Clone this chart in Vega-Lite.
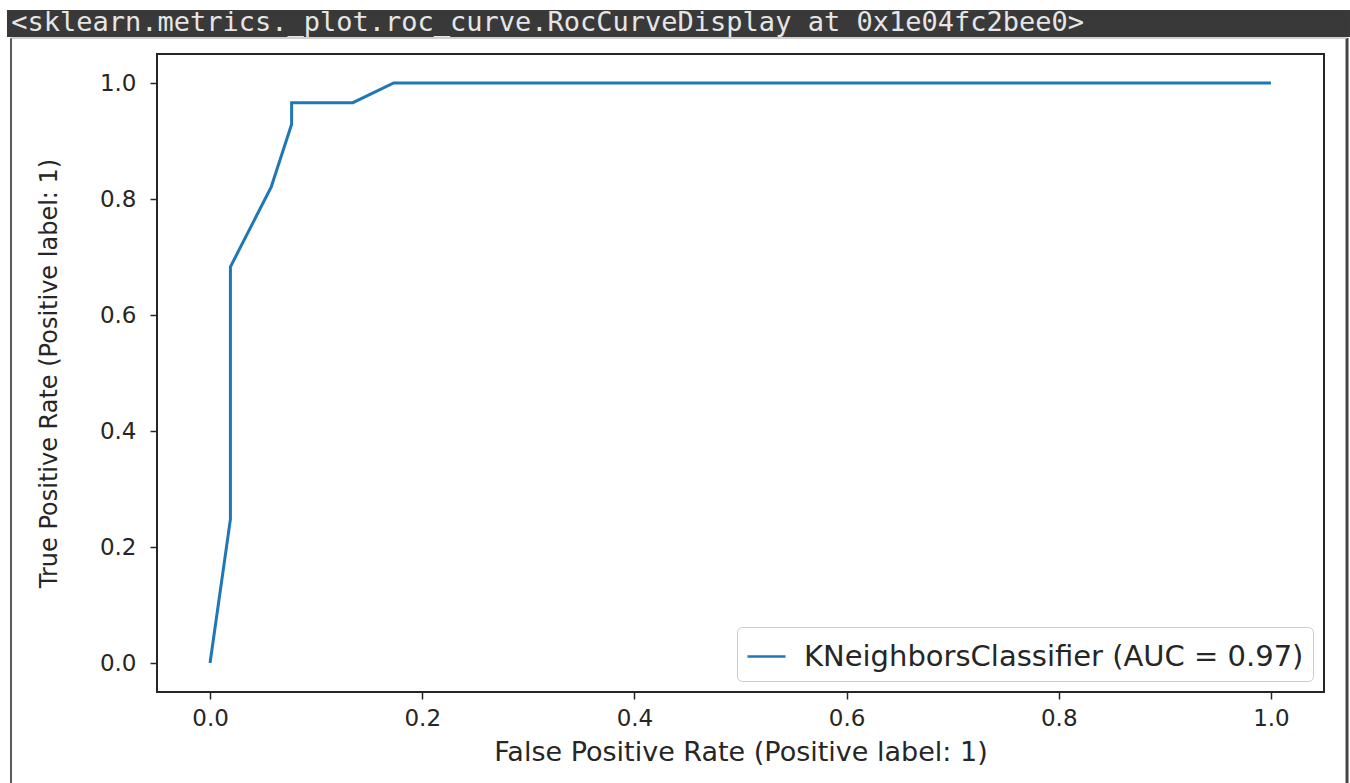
{
  "$schema": "https://vega.github.io/schema/vega-lite/v6.json",
  "width": 1167,
  "height": 638,
  "autosize": {"type": "none"},
  "padding": {"left": 157, "top": 54, "right": 26, "bottom": 91},
  "background": "white",
  "config": {
    "view": {"stroke": "#262626", "strokeWidth": 2},
    "axis": {
      "labelFont": "DejaVu Sans",
      "titleFont": "DejaVu Sans",
      "labelColor": "#262626",
      "titleColor": "#262626",
      "tickColor": "#262626",
      "tickWidth": 1.5,
      "tickSize": 7,
      "grid": false,
      "domain": false,
      "labelFlush": false,
      "titleFontWeight": "normal",
      "labelFontSize": 23
    }
  },
  "layer": [
    {
      "data": {
        "values": [
          {"i": 0, "fpr": 0.0, "tpr": 0.0, "model": "KNeighborsClassifier (AUC = 0.97)"},
          {"i": 1, "fpr": 0.0192, "tpr": 0.248, "model": "KNeighborsClassifier (AUC = 0.97)"},
          {"i": 2, "fpr": 0.0192, "tpr": 0.683, "model": "KNeighborsClassifier (AUC = 0.97)"},
          {"i": 3, "fpr": 0.0577, "tpr": 0.821, "model": "KNeighborsClassifier (AUC = 0.97)"},
          {"i": 4, "fpr": 0.0769, "tpr": 0.929, "model": "KNeighborsClassifier (AUC = 0.97)"},
          {"i": 5, "fpr": 0.0769, "tpr": 0.966, "model": "KNeighborsClassifier (AUC = 0.97)"},
          {"i": 6, "fpr": 0.1346, "tpr": 0.966, "model": "KNeighborsClassifier (AUC = 0.97)"},
          {"i": 7, "fpr": 0.1731, "tpr": 1.0, "model": "KNeighborsClassifier (AUC = 0.97)"},
          {"i": 8, "fpr": 1.0, "tpr": 1.0, "model": "KNeighborsClassifier (AUC = 0.97)"}
        ]
      },
      "mark": {"type": "line", "strokeWidth": 3, "clip": false},
      "encoding": {
        "x": {
          "field": "fpr",
          "type": "quantitative",
          "scale": {"domain": [-0.05, 1.05], "nice": false, "zero": false},
          "axis": {
            "title": "False Positive Rate (Positive label: 1)",
            "values": [0, 0.2, 0.4, 0.6, 0.8, 1.0],
            "format": ".1f",
            "labelPadding": 8,
            "titlePadding": 9,
            "titleFontSize": 27
          }
        },
        "y": {
          "field": "tpr",
          "type": "quantitative",
          "scale": {"domain": [-0.05, 1.05], "nice": false, "zero": false},
          "axis": {
            "title": "True Positive Rate (Positive label: 1)",
            "values": [0, 0.2, 0.4, 0.6, 0.8, 1.0],
            "format": ".1f",
            "labelPadding": 14,
            "titlePadding": 38,
            "titleFontSize": 24
          }
        },
        "order": {"field": "i", "type": "quantitative"},
        "color": {
          "field": "model",
          "type": "nominal",
          "scale": {"range": ["#1f77b4"]},
          "legend": {
            "title": null,
            "orient": "bottom-right",
            "offset": 11,
            "symbolType": "stroke",
            "symbolSize": 1444,
            "symbolStrokeWidth": 2.5,
            "labelFontSize": 29,
            "labelFont": "DejaVu Sans",
            "labelColor": "#262626",
            "labelOffset": 17,
            "padding": 9,
            "strokeColor": "#cccccc",
            "cornerRadius": 5,
            "fillColor": "white",
            "labelLimit": 0
          }
        }
      }
    },
    {
      "data": {"values": [{"part": "output header"}]},
      "mark": {"type": "rect", "color": "#393939", "clip": false},
      "encoding": {
        "x": {"datum": -0.1914},
        "x2": {"datum": 1.0745},
        "y": {"datum": 1.1259},
        "y2": {"datum": 1.0793}
      }
    },
    {
      "data": {"values": [{"label": "<sklearn.metrics._plot.roc_curve.RocCurveDisplay at 0x1e04fc2bee0>"}]},
      "mark": {
        "type": "text",
        "align": "left",
        "baseline": "middle",
        "font": "DejaVu Sans Mono",
        "fontSize": 27,
        "color": "#e6e6e6",
        "clip": false
      },
      "encoding": {
        "text": {"field": "label", "type": "nominal"},
        "x": {"datum": -0.1875},
        "y": {"datum": 1.1034}
      }
    },
    {
      "data": {"values": [{"part": "frame left"}]},
      "mark": {"type": "rule", "color": "#5a5a5a", "strokeWidth": 2, "clip": false},
      "encoding": {
        "x": {"datum": -0.1876},
        "y": {"datum": 1.0776},
        "y2": {"datum": -0.25}
      }
    },
    {
      "data": {"values": [{"part": "frame right"}]},
      "mark": {"type": "rule", "color": "#444444", "strokeWidth": 3, "clip": false},
      "encoding": {
        "x": {"datum": 1.0717},
        "y": {"datum": 1.0776},
        "y2": {"datum": -0.25}
      }
    },
    {
      "data": {"values": [{"part": "frame top"}]},
      "mark": {"type": "rule", "color": "#c0c0c0", "strokeWidth": 1.5, "clip": false},
      "encoding": {
        "x": {"datum": -0.1876},
        "x2": {"datum": 1.0717},
        "y": {"datum": 1.0776}
      }
    }
  ]
}
